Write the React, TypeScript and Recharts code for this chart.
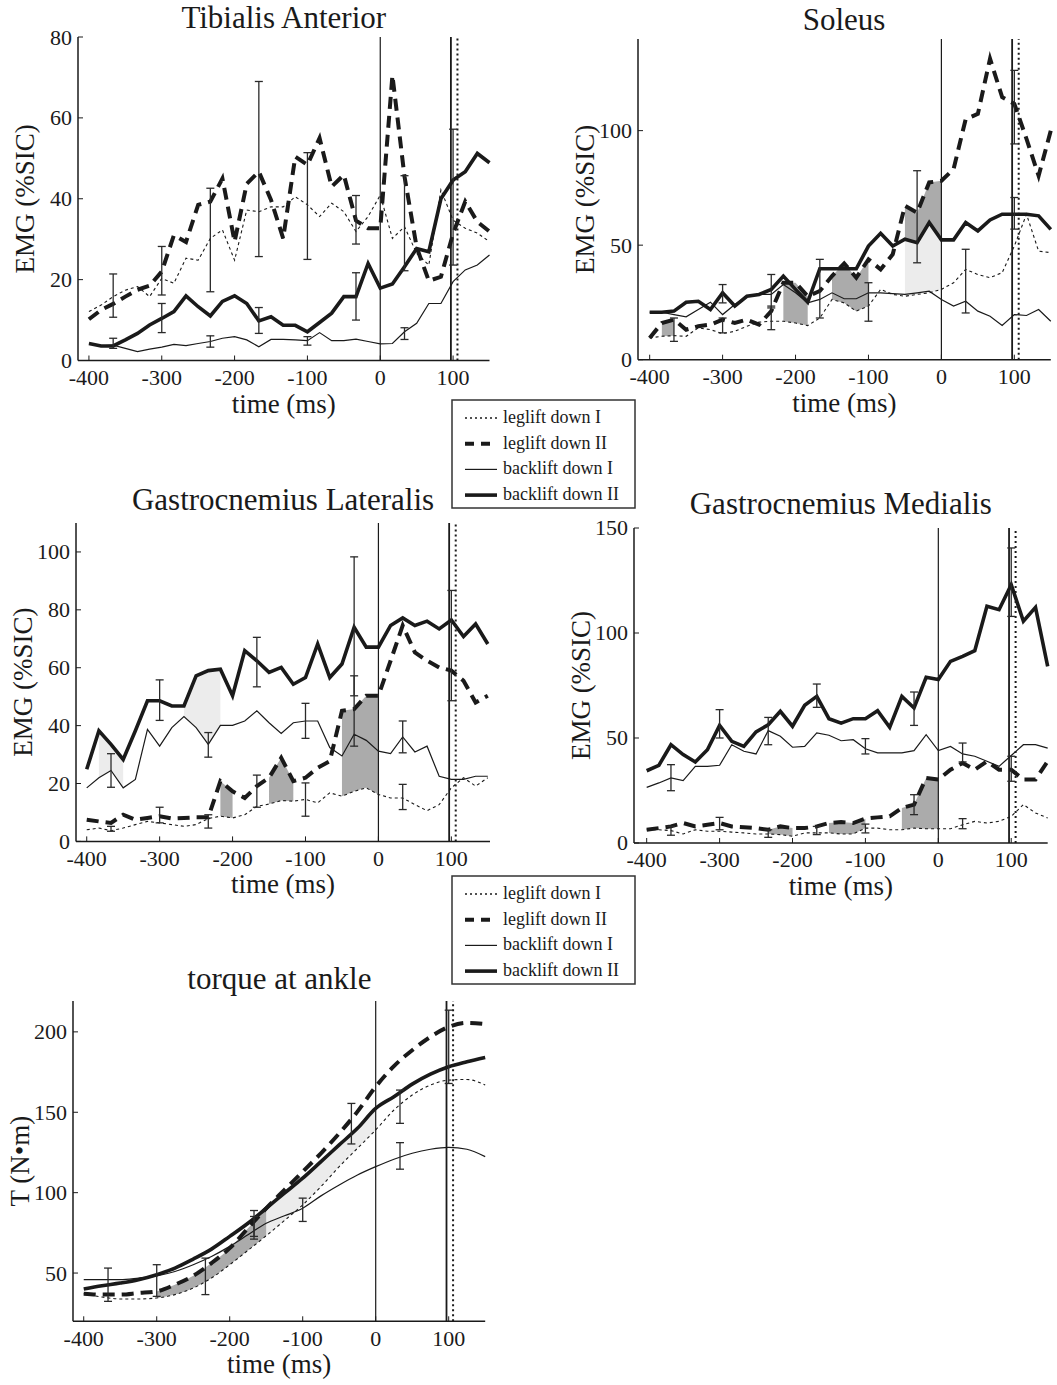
import { ComposedChart, Line, Area, XAxis, YAxis, ReferenceLine, Scatter, ErrorBar } from 'recharts'

const FONT = '"Liberation Serif", "Times New Roman", serif'
const INK = '#1a1a1a'

// EMG samples, one every 1/60 s from -400 to 150 ms
const emgTimes = [
  -400, -383.3, -366.7, -350, -333.3, -316.7, -300, -283.3, -266.7, -250, -233.3, -216.7,
  -200, -183.3, -166.7, -150, -133.3, -116.7, -100, -83.3, -66.7, -50, -33.3, -16.7,
  0, 16.7, 33.3, 50, 66.7, 83.3, 100, 116.7, 133.3, 150,
]

// Tibialis anterior
const taLegI = [12.1, 13.7, 15.8, 17.4, 18.3, 15.8, 20.3, 19.1, 25.3, 24.8, 30.2, 32.3, 24.8, 37.2, 36.8, 38, 38, 40.5, 38.5, 35.6, 38.9, 36.8, 31.9, 35.6, 40.9, 30.2, 33.1, 26.5, 23.6, 42.2, 34.7, 32.7, 31.5, 29.4]
const taLegII = [10.2, 12.5, 14, 15.8, 17.5, 18.5, 22, 31, 29.3, 38.5, 39.3, 45, 29.4, 43.7, 46.7, 39.7, 30.2, 50.4, 48.4, 55, 43, 45.9, 34.6, 32.7, 32.7, 70.5, 45.5, 28, 19.7, 20.7, 31.4, 39.3, 34.3, 31.9]
const taBackI = [4.2, 3.6, 3.8, 3, 2.2, 2.8, 3.3, 4, 3.7, 4.2, 4.7, 5.5, 5.9, 5.1, 3.4, 5.2, 5.2, 5.1, 4.9, 6.9, 4.9, 4.9, 5.3, 4.7, 4.1, 4.2, 7.1, 9.2, 14.1, 14.1, 19.5, 22.4, 23.6, 26.1]
const taBackII = [4.2, 3.6, 3.6, 5.1, 6.7, 8.8, 10.4, 12.1, 16, 13.3, 11, 14.6, 16, 14.1, 9.8, 10.8, 8.7, 8.7, 7.1, 9.4, 11.7, 15.8, 15.8, 24, 17.9, 18.9, 23.2, 27.7, 26.9, 40, 44.6, 46.7, 51.2, 48.9]
const taErrT = [-366.7, -366.7, -300, -300, -233.3, -233.3, -166.7, -166.7, -100, -100, -33.3, -33.3, 33.3, 33.3, 100]
const taErrLo = [10.7, 3, 16.2, 6.9, 17, 3.3, 25.7, 6.7, 25, 3.8, 28.8, 10, 22.2, 5.2, 23.6]
const taErrHi = [21.4, 5.5, 28.2, 14.1, 42.6, 6.1, 69, 13.1, 51.4, 5.9, 40.8, 21.7, 45.7, 8.1, 57.2]

// Soleus
const solLegI = [9.5, 10.2, 10.5, 10.2, 13.9, 13.1, 11.4, 12.4, 14.6, 16.4, 16.8, 16.8, 16, 14.9, 18.2, 26.3, 24.8, 21.2, 23.4, 30.7, 28.5, 27.7, 28.5, 29.2, 30.7, 33.6, 39.4, 37.2, 35.8, 38, 49.6, 63.5, 47.4, 46.7]
const solLegII = [9.5, 16, 17.5, 13.1, 14.6, 15.3, 17.5, 16, 17.5, 15.3, 21.2, 33.6, 33.6, 27.7, 30, 36.5, 42, 35.8, 43.8, 39.4, 46, 67.2, 64.2, 77.4, 78.1, 83.2, 105, 107.3, 131.4, 114.6, 111.7, 96.4, 80.3, 100]
const solBackI = [20.7, 20.7, 19.7, 18.7, 21.9, 25.1, 19.7, 24.1, 27.7, 28.5, 28.5, 32.8, 29.2, 24.8, 26.3, 29.2, 26.6, 26.6, 29.2, 29.2, 28.8, 28.5, 29.2, 29.9, 26.3, 23.4, 25.5, 21.2, 19, 14.9, 19.7, 19.3, 21.9, 16.8]
const solBackII = [20.7, 20.7, 21.2, 25.1, 25.5, 21.9, 29.2, 23.4, 27.7, 28.5, 30.7, 36.5, 30.7, 25.1, 39.7, 39.7, 39.7, 39.7, 49.6, 55.2, 49.6, 52.6, 51.1, 59.9, 52.3, 52.3, 59.9, 56.2, 61, 63.5, 63.5, 63.5, 62.8, 56.9]
const solErrT = [-366.7, -300, -300, -233.3, -233.3, -166.7, -100, -33.3, 33.3, 100, 100]
const solErrLo = [8, 24.8, 11.7, 22.6, 13.1, 18.2, 16.8, 42.3, 20.4, 94.2, 57]
const solErrHi = [18.2, 32.8, 18.2, 37.2, 23.4, 43.8, 33.6, 82.5, 48.2, 126.3, 70.8]

// Gastrocnemius lateralis
const glLegI = [4, 4.6, 3.7, 4.6, 5.8, 6.9, 6.4, 5.8, 5.2, 5.8, 7.9, 8.7, 8.1, 9.2, 12.1, 12.9, 14.1, 13.9, 14.5, 13.3, 16.8, 15.6, 17.3, 18.5, 16.2, 15, 15, 12.7, 10.6, 12.7, 18.5, 22, 19.1, 22]
const glLegII = [7.5, 6.9, 6.4, 9.2, 7.5, 8.1, 8.7, 7.9, 8.1, 8.3, 8.3, 20.8, 17.3, 15, 19.1, 22, 28.9, 20.8, 22, 25.4, 27.7, 45.1, 45.7, 50.3, 50.3, 62.4, 74.6, 65.3, 62.4, 60.1, 59, 55.5, 48, 50.3]
const glBackI = [18.5, 22, 24.5, 18.5, 21.4, 38.7, 32.9, 39.3, 43.1, 39.3, 33.5, 40.1, 40.1, 41.6, 45.1, 41, 37.3, 41, 41.6, 41.6, 32.4, 29.5, 37, 34.9, 31.2, 30.3, 36.1, 30.9, 32.9, 22.5, 21.4, 21.4, 22.5, 22.5]
const glBackII = [24.9, 38.2, 33.5, 28.3, 38.2, 48.6, 48.6, 46.8, 46.8, 57.2, 59, 59.5, 50.3, 65.9, 62.4, 58.4, 60.1, 54.3, 56.6, 68.2, 56.6, 61.3, 74, 67.1, 67.1, 74.6, 77.2, 74.6, 76.1, 73.4, 76.5, 70.8, 75.1, 68.2]
const glErrT = [-366.7, -366.7, -300, -300, -233.3, -233.3, -166.7, -166.7, -100, -100, -33.3, -33.3, 33.3, 33.3, 100]
const glErrLo = [18.7, 3.5, 41.8, 6.4, 29.1, 4.6, 53.4, 11.8, 35.6, 8.7, 32.9, 50.3, 30.6, 11, 48.6]
const glErrHi = [30.3, 5.2, 55.8, 11.8, 37.6, 9.2, 70.5, 22.9, 47.7, 20.2, 98.3, 57.2, 41.6, 19.7, 86.7]

// Gastrocnemius medialis
const gmLegI = [6.3, 6.3, 5.9, 4.3, 6.3, 5.6, 5.6, 5.2, 4.8, 4.3, 4.3, 4, 3.2, 4.8, 4.8, 4.8, 4.3, 4.3, 7.1, 7.1, 6.3, 6.3, 7.1, 6.8, 6.8, 6.8, 8.7, 10.3, 9.5, 10.3, 12.7, 18.3, 14.3, 11.9]
const gmLegII = [6.3, 7.1, 7.9, 9.5, 7.9, 8.7, 9.5, 7.9, 7.5, 7.1, 6.3, 7.9, 7.1, 7.1, 7.9, 9.5, 10, 9.5, 11.6, 12.2, 12.7, 16.7, 18.3, 31, 30.2, 34.9, 38.1, 34.9, 38.9, 34.9, 34.9, 30.2, 30.2, 38.9]
const gmBackI = [26.5, 28.6, 31, 29.7, 36.5, 36.5, 37, 46.8, 43.7, 42.4, 53.5, 50.8, 45.6, 46, 52.4, 51.3, 48.7, 49.2, 44.9, 42.9, 42.9, 42.9, 44, 51.6, 44, 46, 42.4, 41.3, 38.9, 36.5, 41.7, 46.8, 46.8, 45.2]
const gmBackII = [34.4, 37, 46.8, 42.1, 38.6, 44.4, 56, 48.4, 46, 52.9, 56.3, 62.7, 55.6, 65.6, 69.8, 59.2, 57.1, 59.2, 59.2, 63, 55.1, 69.8, 64.3, 78.9, 77.8, 86.5, 88.9, 91.6, 112.7, 111.1, 123, 105.6, 112.2, 84.1]
const gmErrT = [-366.7, -366.7, -300, -300, -233.3, -233.3, -166.7, -166.7, -100, -100, -33.3, -33.3, 33.3, 33.3, 100, 100]
const gmErrLo = [24.9, 3.7, 50, 6.3, 46.8, 2.7, 64.6, 4, 42.4, 4.8, 56, 13.5, 38.6, 6.8, 107.9, 29.4]
const gmErrHi = [37.3, 7.9, 63.5, 12.2, 59.8, 6.3, 75.7, 7.9, 49.7, 9, 71.9, 23, 47.6, 11.6, 140.5, 41.3]

// Ankle torque, every 25 ms
const tqTimes = [-400, -375, -350, -325, -300, -275, -250, -225, -200, -175, -150, -125, -100, -75, -50, -25, 0, 25, 50, 75, 100, 125, 150]
const tqLegI = [37.2, 35.1, 33.9, 33.9, 34.5, 36.6, 40.7, 46.9, 55.2, 64.1, 73.2, 82.7, 92.4, 103.8, 116.2, 127.6, 139, 151.4, 160.7, 166.9, 170, 170.4, 166.9]
const tqLegII = [37.2, 36.6, 36.6, 37.6, 38.6, 42.8, 48.3, 56.2, 65.5, 77.9, 90.3, 101.7, 113, 124.5, 136.9, 150.4, 165.9, 178.7, 188.6, 196.9, 203.1, 205.6, 204.8]
const tqBackI = [45.9, 45.9, 45.9, 46.9, 48.3, 51, 55.2, 60.3, 66.6, 73.8, 81, 85.6, 90.3, 98, 104.8, 111, 116.2, 120.8, 124.5, 127, 128.2, 127, 122.4]
const tqBackII = [40.1, 42.1, 43.8, 45.9, 49, 53.1, 58.7, 64.9, 72.8, 81, 90.3, 99.7, 109, 119.3, 129.7, 140, 152.4, 159.7, 167.5, 173.7, 178.3, 181.4, 184.1]
const tqErrT = [-366.7, -300, -233.3, -166.7, -166.7, -100, -33.3, 33.3, 33.3, 100]
const tqErrLo = [32.4, 35.5, 36.6, 71.1, 72.8, 82.1, 130.3, 143.1, 114.6, 167.9]
const tqErrHi = [53.1, 55.2, 59.3, 88.9, 85.2, 96.6, 155.5, 163.8, 131.1, 213.5]

const xTicks = [-400, -300, -200, -100, 0, 100]
const eventLines = [0, 97]
const dottedEvent = 106

type SeriesKey = 'legI' | 'legII' | 'backI' | 'backII'
// [from, to, lower series]; the upper edge is given per shade kind
type Shade = [number, number, SeriesKey]
type PanelDef = {
  title: string
  titleTop: number
  x0: number; x1: number; y0: number; y1: number
  xDomain: [number, number]; yDomain: [number, number]; yTicks: number[]
  yLabel: string
  times: number[]
  legI: number[]; legII: number[]; backI: number[]; backII: number[]
  errT: number[]; errLo: number[]; errHi: number[]
  dark: Shade[]   // under leglift down II
  light: Shade[]  // under backlift down II
  curve: 'linear' | 'monotone'
}

const panels: PanelDef[] = [
  {
    title: 'Tibialis Anterior', titleTop: 2,
    x0: 78, x1: 489.5, y0: 37, y1: 360.5,
    xDomain: [-415, 150], yDomain: [0, 80], yTicks: [0, 20, 40, 60, 80],
    yLabel: 'EMG (%SIC)', times: emgTimes,
    legI: taLegI, legII: taLegII, backI: taBackI, backII: taBackII,
    errT: taErrT, errLo: taErrLo, errHi: taErrHi,
    dark: [], light: [], curve: 'linear',
  },
  {
    title: 'Soleus', titleTop: 4,
    x0: 637.7, x1: 1050.5, y0: 39.3, y1: 360,
    xDomain: [-416, 150], yDomain: [0, 140], yTicks: [0, 50, 100],
    yLabel: 'EMG (%SIC)', times: emgTimes,
    legI: solLegI, legII: solLegII, backI: solBackI, backII: solBackII,
    errT: solErrT, errLo: solErrLo, errHi: solErrHi,
    dark: [[-383.3, -366.7, 'legI'], [-216.7, -183.3, 'legI'], [-150, -100, 'legI'], [-50, 0, 'backII']],
    light: [[-50, 0, 'legI']],
    curve: 'linear',
  },
  {
    title: 'Gastrocnemius Lateralis', titleTop: 484,
    x0: 76, x1: 490, y0: 523.3, y1: 841.7,
    xDomain: [-414.7, 153], yDomain: [0, 110], yTicks: [0, 20, 40, 60, 80, 100],
    yLabel: 'EMG (%SIC)', times: emgTimes,
    legI: glLegI, legII: glLegII, backI: glBackI, backII: glBackII,
    errT: glErrT, errLo: glErrLo, errHi: glErrHi,
    dark: [[-216.7, -200, 'legI'], [-150, -116.7, 'legI'], [-50, 0, 'legI']],
    light: [[-383.3, -350, 'backI'], [-266.7, -216.7, 'backI']],
    curve: 'linear',
  },
  {
    title: 'Gastrocnemius Medialis', titleTop: 488,
    x0: 634, x1: 1047.7, y0: 528.3, y1: 843.3,
    xDomain: [-417.4, 150], yDomain: [0, 150], yTicks: [0, 50, 100, 150],
    yLabel: 'EMG (%SIC)', times: emgTimes,
    legI: gmLegI, legII: gmLegII, backI: gmBackI, backII: gmBackII,
    errT: gmErrT, errLo: gmErrLo, errHi: gmErrHi,
    dark: [[-233.3, -200, 'legI'], [-150, -100, 'legI'], [-50, 0, 'legI']],
    light: [],
    curve: 'linear',
  },
  {
    title: 'torque at ankle', titleTop: 963,
    x0: 73.3, x1: 485.5, y0: 1000.7, y1: 1321,
    xDomain: [-414.7, 150], yDomain: [20, 219.2], yTicks: [50, 100, 150, 200],
    yLabel: 'T (N•m)', times: tqTimes,
    legI: tqLegI, legII: tqLegII, backI: tqBackI, backII: tqBackII,
    errT: tqErrT, errLo: tqErrLo, errHi: tqErrHi,
    dark: [[-300, -150, 'legI']],
    light: [[-150, 0, 'legI']],
    curve: 'monotone',
  },
]

const axisTitleStyle = { fontSize: 27, fill: INK, fontFamily: FONT }

function XTick({ x, y, payload }: any) {
  return (
    <text x={x} y={y} dy={15.5} textAnchor="middle" fontSize={22} fontFamily={FONT} fill={INK}>
      {payload.value}
    </text>
  )
}

function YTick({ x, y, payload }: any) {
  return (
    <text x={x} y={y} dy={7.5} textAnchor="end" fontSize={22} fontFamily={FONT} fill={INK}>
      {payload.value}
    </text>
  )
}

function shadeAt(p: PanelDef, shades: Shade[], upper: SeriesKey, t: number, i: number) {
  const s = shades.find(([a, b]) => t >= a - 0.5 && t <= b + 0.5)
  return s ? [p[s[2]][i], p[upper][i]] : null
}

function Panel({ p }: { p: PanelDef }) {
  const yW = 80
  const mt = 16
  const mr = 6
  const xh = 60
  const width = yW + (p.x1 - p.x0) + mr
  const height = mt + (p.y1 - p.y0) + xh

  const rows = p.times.map((t, i) => ({
    t,
    legI: p.legI[i],
    legII: p.legII[i],
    backI: p.backI[i],
    backII: p.backII[i],
    dark: shadeAt(p, p.dark, 'legII', t, i),
    light: shadeAt(p, p.light, 'backII', t, i),
  }))
  const errRows = p.errT.map((t, i) => ({
    t,
    y: (p.errLo[i] + p.errHi[i]) / 2,
    e: (p.errHi[i] - p.errLo[i]) / 2,
  }))
  const cx = (p.x0 + p.x1) / 2

  return (
    <>
      <div
        style={{
          position: 'absolute', left: cx - 250, top: p.titleTop, width: 500,
          textAlign: 'center', fontSize: 31, lineHeight: '31px', color: INK, fontFamily: FONT,
        }}
      >
        {p.title}
      </div>
      <div style={{ position: 'absolute', left: p.x0 - yW, top: p.y0 - mt }}>
        <ComposedChart width={width} height={height} data={rows} margin={{ top: mt, right: mr, left: 0, bottom: 0 }}>
          <XAxis
            type="number"
            dataKey="t"
            domain={p.xDomain}
            ticks={xTicks}
            height={xh}
            tickSize={-5}
            tickMargin={14}
            tick={<XTick />}
            axisLine={{ stroke: INK, strokeWidth: 1.5 }}
            tickLine={{ stroke: INK }}
            label={{ value: 'time (ms)', position: 'insideBottom', offset: 8, style: axisTitleStyle }}
          />
          <YAxis
            type="number"
            domain={p.yDomain}
            ticks={p.yTicks}
            width={yW}
            tickSize={-5}
            tickMargin={11}
            tick={<YTick />}
            axisLine={{ stroke: INK, strokeWidth: 1.5 }}
            tickLine={{ stroke: INK }}
            label={{
              value: p.yLabel, angle: -90, position: 'insideLeft', offset: 26,
              style: { ...axisTitleStyle, textAnchor: 'middle' },
            }}
          />
          <Area type={p.curve} dataKey="light" stroke="none" fill="#ececec" fillOpacity={1} isAnimationActive={false} />
          <Area type={p.curve} dataKey="dark" stroke="none" fill="#ababab" fillOpacity={1} isAnimationActive={false} />
          {eventLines.map((x) => (
            <ReferenceLine key={x} x={x} stroke={INK} strokeWidth={x === 0 ? 1.2 : 1.8} />
          ))}
          <ReferenceLine x={dottedEvent} stroke={INK} strokeWidth={2} strokeDasharray="2 3" />
          <Line type={p.curve} dataKey="legI" stroke={INK} strokeWidth={1.1} strokeDasharray="3 3" dot={false} activeDot={false} isAnimationActive={false} />
          <Line type={p.curve} dataKey="backI" stroke={INK} strokeWidth={1.2} dot={false} activeDot={false} isAnimationActive={false} />
          <Line type={p.curve} dataKey="legII" stroke={INK} strokeWidth={4} strokeDasharray="12 7" dot={false} activeDot={false} isAnimationActive={false} />
          <Line type={p.curve} dataKey="backII" stroke={INK} strokeWidth={3.6} dot={false} activeDot={false} isAnimationActive={false} />
          <Scatter data={errRows} dataKey="y" shape={() => <g />} isAnimationActive={false}>
            <ErrorBar dataKey="e" direction="y" width={4} stroke="#2a2a2a" strokeWidth={1.3} />
          </Scatter>
        </ComposedChart>
      </div>
    </>
  )
}

const legendRows = [
  { label: 'leglift down I', w: 1.3, dash: '2 3' },
  { label: 'leglift down II', w: 4, dash: '9 7' },
  { label: 'backlift down I', w: 1.2, dash: undefined },
  { label: 'backlift down II', w: 3.6, dash: undefined },
]

function LegendBox({ top }: { top: number }) {
  return (
    <svg style={{ position: 'absolute', left: 451, top }} width={186} height={111}>
      <rect x={1} y={1} width={183} height={108} fill="#fff" stroke="#333" strokeWidth={1.5} />
      {legendRows.map((r, i) => {
        const y = 19 + i * 25.7
        return (
          <g key={r.label}>
            <line x1={14} x2={46} y1={y} y2={y} stroke={INK} strokeWidth={r.w} strokeDasharray={r.dash} />
            <text x={52} y={y + 5} fontSize={18} fontFamily={FONT} fill={INK}>{r.label}</text>
          </g>
        )
      })}
    </svg>
  )
}

export default function App() {
  return (
    <div style={{ position: 'absolute', left: 0, top: 0, width: 1057, height: 1385, background: '#fff', fontFamily: FONT }}>
      {panels.map((p) => (
        <Panel key={p.title} p={p} />
      ))}
      <LegendBox top={399} />
      <LegendBox top={875} />
    </div>
  )
}
